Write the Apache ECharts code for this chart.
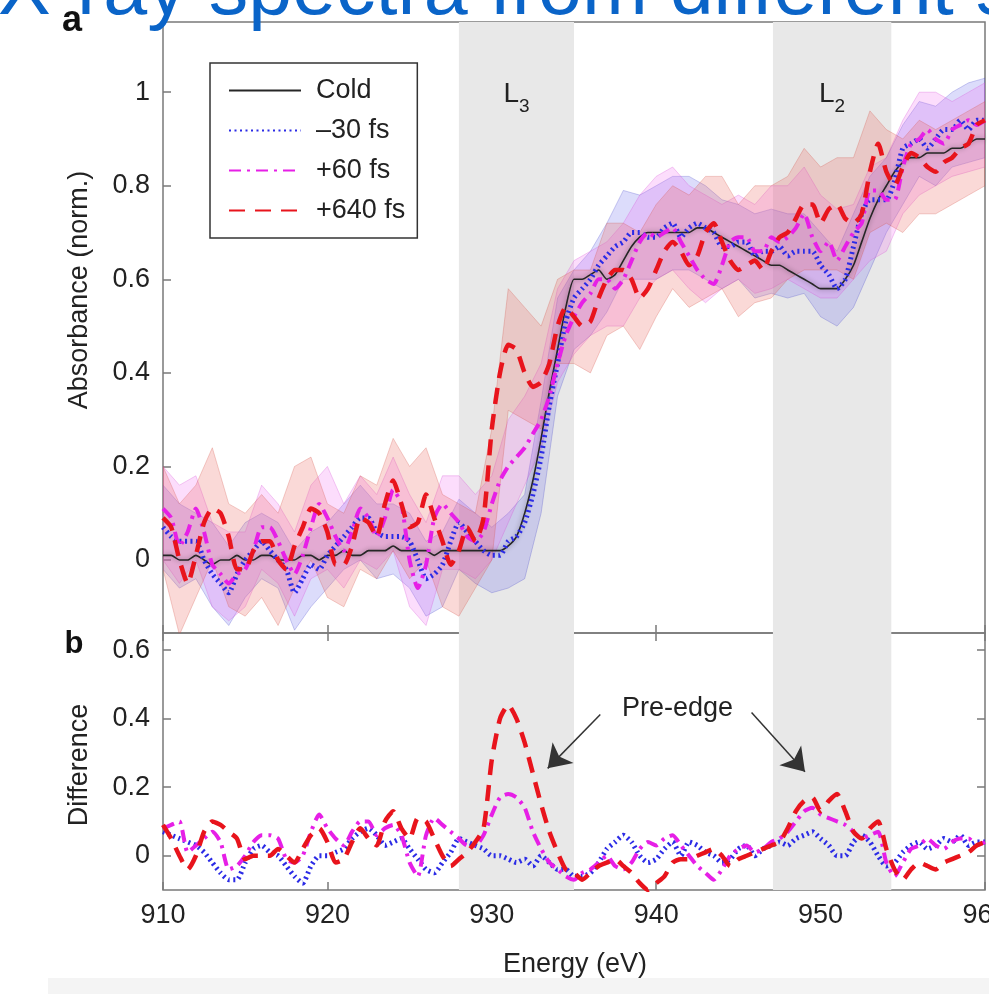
<!DOCTYPE html>
<html>
<head>
<meta charset="utf-8">
<script src="https://cdn.jsdelivr.net/npm/echarts@6/dist/echarts.min.js"></script>
<style>
html, body { margin: 0; padding: 0; background: #fff; }
#chart { width: 989px; height: 994px; }
</style>
</head>
<body>
<div id="chart"></div>
<script>
// energy grid: 0.5 eV steps for the curves, 1 eV steps for the error bands
const energy = [];
for (let i = 0; i <= 100; i++) energy.push(910 + i * 0.5);
const energyBand = [];
for (let i = 0; i <= 50; i++) energyBand.push(910 + i);

const absTicks = [0, 0.2, 0.4, 0.6, 0.8, 1];
const diffTicks = [0, 0.2, 0.4, 0.6];

// panel a: absorbance
const cold = [
  0.01, 0.01, 0.0, 0.0, 0.01, 0.0, -0.01, 0.0, 0.0, 0.01,
  0.0, 0.0, 0.01, 0.01, 0.0, 0.0, 0.0, 0.01, 0.01, 0.0,
  0.01, 0.01, 0.02, 0.01, 0.01, 0.02, 0.02, 0.02, 0.03, 0.02,
  0.02, 0.02, 0.02, 0.01, 0.02, 0.02, 0.02, 0.02, 0.02, 0.02,
  0.02, 0.02, 0.03, 0.05, 0.1, 0.17, 0.26, 0.36, 0.45, 0.54,
  0.6, 0.6, 0.61, 0.62, 0.6, 0.61, 0.64, 0.67, 0.69, 0.7,
  0.7, 0.7, 0.7, 0.7, 0.7, 0.71, 0.71, 0.7, 0.69, 0.68,
  0.67, 0.66, 0.65, 0.64, 0.63, 0.63, 0.62, 0.61, 0.6, 0.59,
  0.58, 0.58, 0.58, 0.6, 0.63, 0.68, 0.73, 0.77, 0.8, 0.83,
  0.85, 0.86, 0.86, 0.87, 0.87, 0.87, 0.88, 0.88, 0.89, 0.9,
  0.9
];
const minus30 = [
  0.07, 0.05, 0.04, 0.04, 0.04, 0.0, -0.03, -0.05, -0.07, -0.03,
  0.0, 0.02, 0.04, 0.02, 0.0, -0.02, -0.07, -0.04, -0.01, -0.02,
  0.01, 0.03, 0.05, 0.07, 0.09, 0.09, 0.06, 0.05, 0.05, 0.05,
  0.04, 0.0, -0.04, -0.03, -0.01, 0.04, 0.08, 0.06, 0.04, 0.02,
  0.01, 0.01, 0.04, 0.05, 0.08, 0.14, 0.22, 0.33, 0.42, 0.51,
  0.56, 0.58, 0.6, 0.63, 0.65, 0.67, 0.68, 0.7, 0.7, 0.69,
  0.69, 0.71, 0.72, 0.69, 0.71, 0.72, 0.71, 0.7, 0.67, 0.67,
  0.68, 0.68, 0.65, 0.66, 0.66, 0.67, 0.65, 0.66, 0.66, 0.66,
  0.63, 0.61, 0.58, 0.6, 0.67, 0.74, 0.77, 0.77, 0.77, 0.81,
  0.88, 0.89, 0.9, 0.88, 0.9, 0.92, 0.92, 0.94, 0.92, 0.94,
  0.94
];
const plus60 = [
  0.11, 0.09, 0.03, 0.06, 0.11, 0.06, -0.01, -0.03, -0.05, -0.03,
  -0.02, 0.02, 0.07, 0.07, 0.04, 0.0, -0.03, 0.01, 0.07, 0.12,
  0.09, 0.05, 0.02, 0.06, 0.11, 0.09, 0.05, 0.09, 0.15, 0.12,
  0.0, -0.06, -0.01, 0.09, 0.12, 0.1, 0.08, 0.05, 0.04, 0.06,
  0.12, 0.17, 0.2, 0.22, 0.24, 0.27, 0.3, 0.35, 0.42, 0.48,
  0.52, 0.55, 0.57, 0.6, 0.6, 0.58, 0.6, 0.64, 0.68, 0.7,
  0.69, 0.7, 0.71, 0.68, 0.65, 0.62, 0.6, 0.59, 0.63, 0.68,
  0.69, 0.69, 0.66, 0.66, 0.69, 0.68, 0.69, 0.71, 0.74, 0.69,
  0.66, 0.68, 0.64, 0.67, 0.7, 0.72, 0.79, 0.79, 0.77, 0.77,
  0.84, 0.89, 0.9, 0.92, 0.9, 0.89, 0.92, 0.93, 0.94, 0.93,
  0.94
];
const plus640 = [
  0.09, 0.07, 0.0, -0.05, 0.01, 0.08, 0.11, 0.1, 0.05, -0.02,
  -0.02, 0.02, 0.04, 0.04, 0.0, -0.02, 0.03, 0.07, 0.11, 0.1,
  0.06, -0.01, -0.01, 0.03, 0.09, 0.08, 0.05, 0.12, 0.17, 0.12,
  0.07, 0.08, 0.14, 0.09, 0.04, -0.01, 0.02, 0.07, 0.04, 0.09,
  0.28, 0.4, 0.46, 0.45, 0.4, 0.37, 0.38, 0.42, 0.5, 0.54,
  0.52, 0.5, 0.51, 0.56, 0.6, 0.62, 0.62, 0.6, 0.56, 0.58,
  0.62, 0.66, 0.68, 0.66, 0.63, 0.65, 0.7, 0.72, 0.68, 0.64,
  0.62, 0.63, 0.64, 0.62, 0.66, 0.69, 0.7, 0.73, 0.76, 0.76,
  0.72, 0.75, 0.76, 0.73, 0.72, 0.74, 0.83, 0.89, 0.83, 0.8,
  0.84, 0.87, 0.86, 0.84, 0.83, 0.85, 0.86, 0.88, 0.89, 0.93,
  0.94
];

// error bands (1 eV steps)
const minus30Lo = [-0.02, -0.06, -0.04, -0.1, -0.14, -0.08, -0.04, -0.06, -0.15, -0.1, -0.06, -0.02, 0.0, -0.04, -0.03, -0.06, -0.12, -0.1, -0.02, -0.05, -0.07, -0.06, -0.04, 0.1, 0.35, 0.45, 0.48, 0.53, 0.6, 0.6, 0.6, 0.62, 0.62, 0.6, 0.58, 0.6, 0.56, 0.57, 0.56, 0.57, 0.52, 0.5, 0.54, 0.62, 0.7, 0.76, 0.82, 0.8, 0.84, 0.85, 0.86];
const minus30Hi = [0.16, 0.12, 0.1, 0.08, 0.03, 0.08, 0.1, 0.08, 0.02, 0.06, 0.08, 0.12, 0.16, 0.12, 0.12, 0.1, 0.04, 0.06, 0.13, 0.1, 0.07, 0.1, 0.14, 0.34, 0.56, 0.62, 0.66, 0.72, 0.79, 0.78, 0.8, 0.82, 0.82, 0.8, 0.77, 0.76, 0.74, 0.75, 0.74, 0.74, 0.7, 0.66, 0.74, 0.82, 0.86, 0.93, 0.98, 0.97, 1.0, 1.02, 1.03];
const plus60Lo = [0.0, -0.05, 0.0, -0.1, -0.13, -0.1, -0.02, -0.05, -0.12, -0.04, -0.02, -0.06, 0.0, -0.02, 0.02, -0.1, -0.14, -0.02, -0.02, -0.04, 0.0, 0.08, 0.16, 0.24, 0.38, 0.44, 0.48, 0.5, 0.5, 0.56, 0.6, 0.62, 0.58, 0.55, 0.58, 0.6, 0.57, 0.58, 0.6, 0.58, 0.56, 0.56, 0.6, 0.64, 0.66, 0.74, 0.78, 0.8, 0.82, 0.83, 0.84];
const plus60Hi = [0.2, 0.16, 0.18, 0.08, 0.06, 0.06, 0.16, 0.12, 0.06, 0.16, 0.2, 0.12, 0.18, 0.14, 0.22, 0.14, 0.08, 0.18, 0.18, 0.14, 0.18, 0.3, 0.35, 0.42, 0.58, 0.64, 0.66, 0.68, 0.72, 0.78, 0.82, 0.84, 0.8, 0.78, 0.76, 0.78, 0.76, 0.8, 0.8, 0.84, 0.78, 0.75, 0.76, 0.84, 0.86, 0.94, 1.0, 1.0, 0.98, 1.0, 1.02];
const plus640Lo = [-0.02, -0.16, -0.08, 0.0, -0.1, -0.12, -0.08, -0.14, -0.06, 0.0, -0.08, -0.1, -0.02, -0.04, 0.02, -0.04, 0.0, -0.1, -0.12, -0.06, 0.0, 0.32, 0.3, 0.28, 0.42, 0.42, 0.4, 0.48, 0.5, 0.45, 0.52, 0.58, 0.54, 0.56, 0.58, 0.52, 0.55, 0.56, 0.6, 0.62, 0.62, 0.62, 0.6, 0.7, 0.72, 0.7, 0.74, 0.74, 0.76, 0.78, 0.8];
const plus640Hi = [0.2, 0.12, 0.16, 0.24, 0.12, 0.1, 0.14, 0.1, 0.2, 0.22, 0.12, 0.1, 0.18, 0.16, 0.26, 0.2, 0.24, 0.14, 0.12, 0.1, 0.28, 0.58, 0.54, 0.5, 0.6, 0.62, 0.62, 0.72, 0.72, 0.7, 0.76, 0.8, 0.78, 0.82, 0.82, 0.76, 0.8, 0.8, 0.82, 0.88, 0.84, 0.86, 0.86, 0.96, 0.92, 0.9, 0.94, 0.92, 0.94, 0.96, 0.98];

// panel b: difference to cold
const diffMinus30 = [
  0.07, 0.06, 0.05, 0.04, 0.03, 0.01, -0.02, -0.05, -0.07, -0.07,
  -0.02, 0.02, 0.03, 0.01, 0.0, -0.03, -0.06, -0.08, -0.03, 0.0,
  0.0, 0.01, 0.02, 0.05, 0.07, 0.08, 0.06, 0.03, 0.04, 0.05,
  0.02, -0.01, -0.04, -0.05, -0.02, 0.01, 0.05, 0.04, 0.03, 0.02,
  0.0, 0.0, -0.01, -0.02, -0.01, -0.03, 0.0, -0.02, -0.04, -0.04,
  -0.06, -0.06, -0.05, -0.02, 0.02, 0.04, 0.06, 0.04, 0.0, -0.02,
  -0.01, 0.02, 0.04, 0.0, 0.04, 0.03, 0.01, 0.0, -0.02, -0.01,
  0.02, 0.03, 0.0, 0.02, 0.03, 0.04, 0.03, 0.05, 0.06, 0.07,
  0.05, 0.03, 0.0, 0.0, 0.04, 0.06, 0.04, 0.0, -0.03, -0.02,
  0.01, 0.03, 0.04, 0.02, 0.03, 0.05, 0.04, 0.06, 0.03, 0.04,
  0.04
];
const diffPlus60 = [
  0.08, 0.09, 0.1, 0.01, 0.03, 0.05, 0.07, 0.04, -0.04, -0.03,
  0.0, 0.04, 0.06, 0.06, 0.05, -0.01, -0.02, 0.0, 0.07, 0.12,
  0.08, 0.05, 0.03, 0.07, 0.1, 0.1, 0.06, 0.08, 0.09, 0.06,
  -0.02, -0.06, 0.06, 0.11, 0.09, 0.07, 0.05, 0.03, 0.03, 0.06,
  0.12, 0.17, 0.18, 0.17, 0.14, 0.07, 0.02, -0.02, -0.04, -0.06,
  -0.07, -0.05, -0.04, -0.02, 0.0, -0.03, -0.04, -0.02, 0.02, 0.04,
  0.03, 0.05, 0.06, 0.03, 0.0, -0.03, -0.05, -0.07, -0.04, 0.0,
  0.02, 0.03, 0.01, 0.02, 0.04, 0.05, 0.07, 0.1, 0.13, 0.14,
  0.12, 0.11, 0.1, 0.09, 0.07, 0.05, 0.06, 0.07, -0.02, -0.06,
  -0.02, 0.02, 0.03, 0.05, 0.03, 0.02, 0.04, 0.05, 0.05, 0.03,
  0.04
];
const diffPlus640 = [
  0.09, 0.05, 0.0, -0.04, 0.0, 0.07, 0.1, 0.09, 0.07, 0.05,
  -0.01, 0.0, 0.0, 0.0, 0.02, 0.0, -0.02, 0.02, 0.06, 0.08,
  0.04, -0.02, -0.01, 0.04, 0.08, 0.05, 0.03, 0.1, 0.13, 0.08,
  0.05, 0.11, 0.1, 0.05, 0.0, -0.03, -0.01, 0.01, 0.04, 0.08,
  0.28, 0.4, 0.44, 0.4, 0.33, 0.24, 0.15, 0.07, 0.01, -0.04,
  -0.05, -0.07, -0.05, -0.03, -0.02, -0.01, -0.03, -0.05, -0.08, -0.1,
  -0.08, -0.06, -0.02, -0.01, -0.01, 0.0, 0.01, 0.02, 0.0, -0.03,
  -0.01, 0.0, 0.01, 0.02, 0.03, 0.04, 0.08, 0.13, 0.16, 0.17,
  0.13, 0.16, 0.18, 0.13, 0.07, 0.05, 0.08, 0.1, 0.02, -0.04,
  -0.07, -0.04, -0.02, -0.03, -0.04, -0.02, -0.01, 0.0, 0.01, 0.03,
  0.04
];

const FONT = '"Liberation Sans", Arial, Helvetica, sans-serif';
const AXIS = '#7a7a7a';
const TXT = '#222';

const pairs = (xs, ys) => xs.map((x, i) => [x, ys[i]]);

const STYLE = {
  cold: { color: '#262626', width: 1.6, type: 'solid', shadowColor: 'rgba(0,0,0,0.4)', shadowBlur: 5 },
  m30: { color: '#2b2be6', width: 5, type: [2, 3.5] },
  p60: { color: '#e61fe6', width: 4, type: [12, 6, 3, 6] },
  p640: { color: '#e8141c', width: 4.5, type: [16, 10] }
};

// shaded uncertainty band: one polygon through the upper and lower edges
function bandSeries(lo, hi, fill, edge) {
  return {
    type: 'custom', xAxisIndex: 0, yAxisIndex: 0, silent: true, z: 2, clip: true,
    data: energyBand.map((x, i) => [x, lo[i], hi[i]]),
    encode: { x: 0, y: [1, 2] },
    renderItem: function (params, api) {
      if (params.dataIndex !== 0) return null;
      const upper = energyBand.map((x, i) => api.coord([x, hi[i]]));
      const lower = energyBand.map((x, i) => api.coord([x, lo[i]])).reverse();
      return {
        type: 'polygon',
        shape: { points: upper.concat(lower) },
        style: { fill: fill, stroke: edge, lineWidth: 0.8 }
      };
    }
  };
}

function curve(name, data, style, panel) {
  return {
    name: name, type: 'line', xAxisIndex: panel, yAxisIndex: panel,
    data: pairs(energy, data), symbol: 'none', showSymbol: false, smooth: 0.2, z: 3,
    itemStyle: { color: style.color },
    lineStyle: style
  };
}

function xAxisBase(grid, extra) {
  return Object.assign({
    gridIndex: grid, type: 'value', min: 910, max: 960, interval: 10,
    axisLine: { show: false, onZero: false }, splitLine: { show: false },
    axisTick: { inside: true, length: 8, lineStyle: { color: AXIS, width: 1.5 } },
    axisLabel: { show: false }
  }, extra);
}

function yAxisBase(grid, min, max, ticks, extra) {
  return Object.assign({
    gridIndex: grid, type: 'value', min: min, max: max,
    axisLine: { show: false, onZero: false }, splitLine: { show: false },
    axisTick: { inside: true, length: 8, customValues: ticks, lineStyle: { color: AXIS, width: 1.5 } },
    axisLabel: { customValues: ticks, fontSize: 27, color: TXT, margin: 13, fontFamily: FONT }
  }, extra);
}

const shade = { color: '#e8e8e8' };

const chart = echarts.init(document.getElementById('chart'));
chart.setOption({
  backgroundColor: '#fff',
  animation: false,
  textStyle: { fontFamily: FONT },
  grid: [
    { left: 163, top: 22, width: 822, height: 611, show: true, borderColor: AXIS, borderWidth: 1.5, containLabel: false, outerBoundsMode: 'none' },
    { left: 163, top: 633, width: 822, height: 257, show: true, borderColor: AXIS, borderWidth: 1.5, containLabel: false, outerBoundsMode: 'none' }
  ],
  legend: {
    left: 210, top: 63, orient: 'vertical',
    data: ['Cold', '\u201330 fs', '+60 fs', '+640 fs'],
    backgroundColor: '#fff', borderColor: '#333', borderWidth: 1.5,
    padding: [14, 12, 14, 18], itemWidth: 72, itemHeight: 14, itemGap: 13,
    itemStyle: { opacity: 0 },
    textStyle: { fontSize: 27, color: TXT, fontFamily: FONT, padding: [0, 0, 0, 10] },
    selectedMode: false
  },
  xAxis: [
    xAxisBase(0, {}),
    xAxisBase(1, { axisLabel: { show: true, fontSize: 27, color: TXT, margin: 12, fontFamily: FONT } }),
    xAxisBase(1, { position: 'top' })
  ],
  yAxis: [
    yAxisBase(0, -0.156, 1.15, absTicks, {}),
    yAxisBase(1, -0.1, 0.65, diffTicks, {}),
    yAxisBase(1, -0.1, 0.65, diffTicks, { position: 'right', axisLabel: { show: false } })
  ],
  series: [
    {
      type: 'line', xAxisIndex: 0, yAxisIndex: 0, data: [], z: 1, silent: true,
      markArea: {
        silent: true, itemStyle: shade,
        label: {
          show: true, position: 'insideTop', distance: 58, formatter: '{L|L}{s|3}',
          rich: {
            L: { fontSize: 28, color: TXT, fontFamily: FONT, verticalAlign: 'bottom', padding: [0, 0, 8, 0] },
            s: { fontSize: 19, color: TXT, fontFamily: FONT, verticalAlign: 'bottom' }
          }
        },
        data: [
          [{ xAxis: 928 }, { xAxis: 935 }],
          [{ xAxis: 947.1, label: { formatter: '{L|L}{s|2}' } }, { xAxis: 954.3 }]
        ]
      }
    },
    {
      type: 'line', xAxisIndex: 1, yAxisIndex: 1, data: [], z: 1, silent: true,
      markArea: {
        silent: true, itemStyle: shade, label: { show: false },
        data: [
          [{ xAxis: 928 }, { xAxis: 935 }],
          [{ xAxis: 947.1 }, { xAxis: 954.3 }]
        ]
      },
      markPoint: {
        silent: true, symbol: 'circle', symbolSize: 0,
        label: { show: true, position: 'inside', formatter: 'Pre-edge', fontSize: 27, color: TXT, fontFamily: FONT },
        data: [{ coord: [941.3, 0.43] }]
      },
      markLine: {
        silent: true, symbol: ['none', 'arrow'], symbolSize: 22,
        itemStyle: { color: '#111' },
        lineStyle: { color: '#333', width: 1.5, type: 'solid' },
        label: { show: false },
        data: [
          [{ coord: [936.6, 0.412] }, { coord: [933.4, 0.255] }],
          [{ coord: [945.8, 0.418] }, { coord: [949.05, 0.245] }]
        ]
      }
    },
    bandSeries(minus30Lo, minus30Hi, 'rgba(95,95,235,0.22)', 'rgba(70,70,200,0.35)'),
    bandSeries(plus60Lo, plus60Hi, 'rgba(240,100,240,0.22)', 'rgba(210,70,210,0.35)'),
    bandSeries(plus640Lo, plus640Hi, 'rgba(235,105,95,0.25)', 'rgba(210,80,70,0.35)'),
    curve('Cold', cold, STYLE.cold, 0),
    curve('\u201330 fs', minus30, STYLE.m30, 0),
    curve('+60 fs', plus60, STYLE.p60, 0),
    curve('+640 fs', plus640, STYLE.p640, 0),
    curve('\u201330 fs diff', diffMinus30, STYLE.m30, 1),
    curve('+60 fs diff', diffPlus60, STYLE.p60, 1),
    curve('+640 fs diff', diffPlus640, STYLE.p640, 1)
  ],
  graphic: [
    { type: 'rect', shape: { x: 48, y: 978, width: 941, height: 16 }, style: { fill: '#f4f4f4' }, z: 0 },
    {
      type: 'text', x: 80, y: 290, rotation: Math.PI / 2,
      style: { text: 'Absorbance (norm.)', font: '27px ' + FONT, fill: TXT, textAlign: 'center', textVerticalAlign: 'middle', verticalAlign: 'middle' }
    },
    {
      type: 'text', x: 80, y: 765, rotation: Math.PI / 2,
      style: { text: 'Difference', font: '27px ' + FONT, fill: TXT, textAlign: 'center', textVerticalAlign: 'middle', verticalAlign: 'middle' }
    },
    {
      type: 'text', x: 575, y: 965,
      style: { text: 'Energy (eV)', font: '27px ' + FONT, fill: TXT, textAlign: 'center', textVerticalAlign: 'middle', verticalAlign: 'middle' }
    },
    {
      type: 'text', x: 72, y: 21,
      style: { text: 'a', font: 'bold 36px ' + FONT, fill: '#111', textAlign: 'center', textVerticalAlign: 'middle', verticalAlign: 'middle' }
    },
    {
      type: 'text', x: 74, y: 644,
      style: { text: 'b', font: 'bold 31px ' + FONT, fill: '#111', textAlign: 'center', textVerticalAlign: 'middle', verticalAlign: 'middle' }
    },
    {
      type: 'text', x: -2, y: -8, z: 100,
      style: { text: 'X-ray spectra from different samples', font: '79px ' + FONT, fill: '#0a64c8', textAlign: 'left', textVerticalAlign: 'middle', verticalAlign: 'middle' }
    }
  ]
});
window.addEventListener('resize', () => chart.resize());
</script>
</body>
</html>
